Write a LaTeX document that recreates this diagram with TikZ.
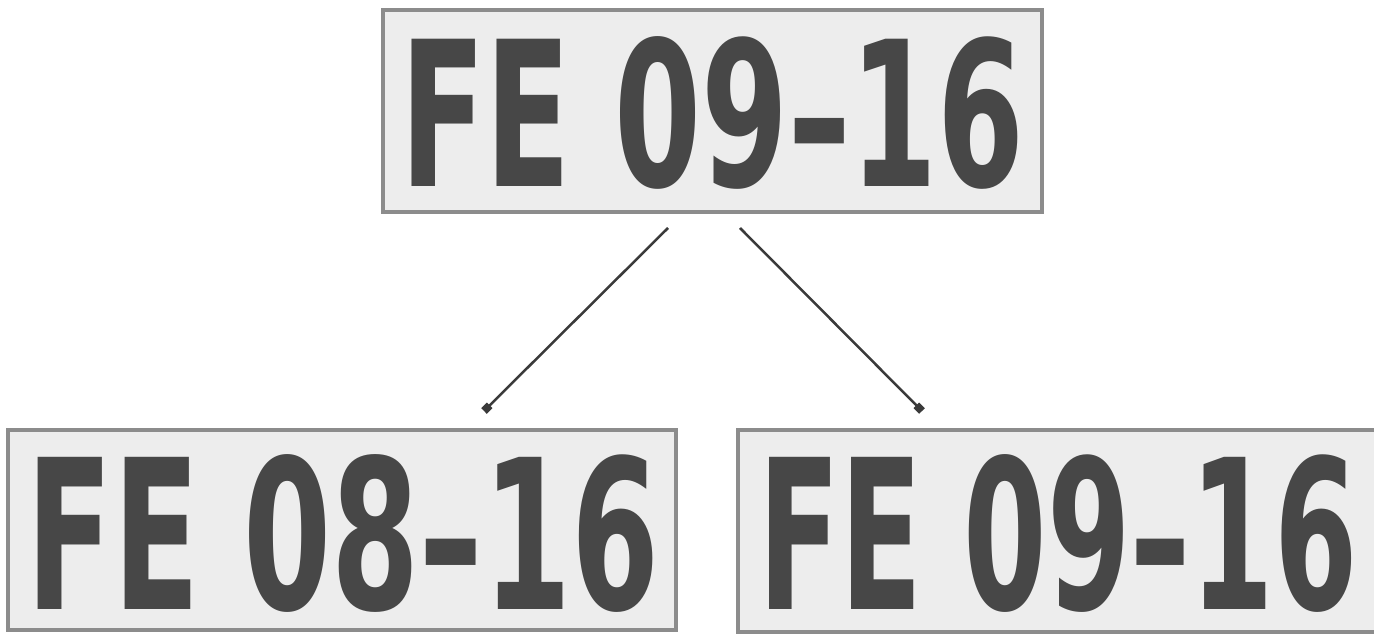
\documentclass[tikz,border=0pt]{standalone}
\usepackage{fontspec}
\setmainfont{DejaVu Sans}
\usetikzlibrary{arrows.meta}
\definecolor{plateedge}{HTML}{8C8C8C}
\definecolor{platefill}{HTML}{EDEDED}
\definecolor{plateink}{HTML}{474747}
\definecolor{linkink}{HTML}{3A3A3A}
\tikzset{
  plate/.style={draw=plateedge, line width=0.07cm, fill=platefill,
    inner sep=0pt, anchor=center},
  platetext/.style={text=plateink, inner sep=0pt, anchor=center},
  link/.style={draw=linkink, line width=0.05cm,
    -{Square[length=0.16cm,width=0.16cm]}},
}
\newcommand{\platestr}[3]{\resizebox{#1}{#2}{\bfseries #3}}
\begin{document}
\begin{tikzpicture}[x=0.02cm,y=-0.02cm]
  \useasboundingbox (0,0) rectangle (1374,634);
  \clip (0,0) rectangle (1374,634);
  \fill[white] (0,0) rectangle (1374,634);

  % upper plate
  \node[plate, minimum width=13.18cm, minimum height=4.04cm] (top) at (712.5,111) {};
  \node[platetext] (toptext) at (712.5,113) {\platestr{12.5cm}{3.0cm}{FE 09–16}};

  % lower left plate
  \node[plate, minimum width=13.36cm, minimum height=4.0cm] (left) at (342,530) {};
  \node[platetext] (lefttext) at (343,533) {\platestr{12.66cm}{3.1cm}{FE 08–16}};

  % lower right plate (runs past the right edge)
  \node[plate, minimum width=13.4cm, minimum height=4.04cm] (right) at (1073,531) {};
  \node[platetext] (righttext) at (1058,533) {\platestr{12.0cm}{3.1cm}{FE 09–16}};

  % connectors
  \coordinate (ls) at (668,228);
  \coordinate (le) at (484,411);
  \coordinate (rs) at (740,228);
  \coordinate (re) at (922,411);
  \draw[link] (ls) -- (le);
  \draw[link] (rs) -- (re);
\end{tikzpicture}
\end{document}
